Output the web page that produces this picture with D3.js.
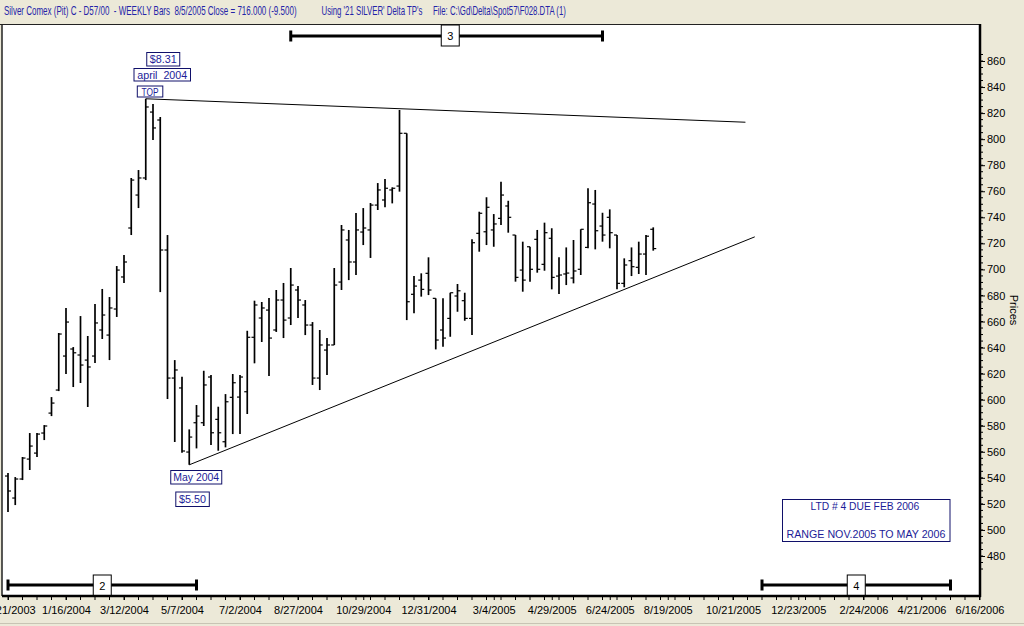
<!DOCTYPE html>
<html><head><meta charset="utf-8">
<script src="https://cdn.jsdelivr.net/npm/d3@7"></script>
<style>
html,body{margin:0;padding:0;background:#ECE9D8;overflow:hidden;}
svg{display:block;font-family:"Liberation Sans",Arial,sans-serif;}
text{white-space:pre;}
</style></head><body>
<svg id="c" width="1024" height="626"></svg>
<script>
// ---------------- DATA ----------------
const firstWeek = "2003-11-21";   // weekly bars (Fridays)
const lastWeek  = "2005-08-05";
const opens = [541.4,524.5,539.1,554.4,559.0,574.4,589.7,607.4,633.5,638.9,
634.3,630.4,633.5,653.5,649.6,669.6,694.2,731.8,757.1,770.2,
820.8,814.7,714.9,616.6,609.0,559.8,582.3,582.3,617.4,584.9,
567.7,601.8,602.0,606.1,647.9,662.7,668.8,653.5,676.5,662.7,
684.2,672.7,657.3,616.6,638.1,642.0,690.3,722.6,705.7,728.7,
730.3,749.4,753.3,761.0,764.0,804.5,680.9,691.8,697.0,677.8,
653.5,662.4,679.6,676.0,662.4,727.7,728.9,730.3,739.2,748.7,
726.4,699.5,717.4,723.1,703.9,723.9,694.9,696.5,693.4,700.1,
716.9,750.2,733.3,740.0,726.4,689.3,706.7,701.6,711.8,730.8];
const highs = [543.7,540.6,556.0,574.4,574.4,580.5,602.0,651.2,670.4,640.4,
664.2,648.9,673.4,685.0,678.8,702.6,711.1,770.2,776.3,831.0,
827.0,817.0,726.4,630.4,617.6,577.2,595.9,622.2,618.9,594.6,
604.3,619.7,618.9,652.9,676.0,675.0,678.0,684.2,689.6,701.1,
687.3,676.5,659.6,653.5,647.3,701.1,734.1,730.3,743.3,747.1,
751.0,766.3,769.4,763.0,822.4,804.5,694.9,697.0,709.3,677.8,
677.8,682.1,688.8,682.1,723.1,744.3,755.4,742.5,767.3,752.7,
726.4,721.3,717.4,730.3,735.9,731.6,709.3,716.9,722.6,730.8,
762.3,761.0,743.5,746.1,726.4,708.5,716.9,721.3,726.4,732.3];
const lows = [513.7,519.1,538.3,546.0,556.0,569.0,587.4,606.6,619.7,609.7,
612.8,594.4,628.1,646.6,630.4,663.5,689.6,726.4,747.1,768.6,
799.3,682.6,600.5,567.5,559.3,550.0,562.6,579.8,565.2,560.8,
563.4,573.6,573.6,589.0,627.9,644.3,618.2,652.0,647.3,657.3,
662.7,649.6,611.3,607.4,618.9,642.0,684.2,691.8,695.7,718.7,
708.8,745.6,747.7,750.7,759.7,661.1,666.3,679.1,680.3,638.6,
640.6,648.3,667.5,660.6,649.6,713.6,718.7,717.4,734.1,728.2,
690.6,682.9,690.6,697.5,699.0,684.7,681.1,688.0,689.3,695.7,
716.2,715.4,721.3,716.2,684.7,686.3,694.9,696.5,695.7,714.4];
const closes = [529.9,539.1,555.2,564.4,573.6,579.8,597.4,650.4,659.6,636.0,
626.6,625.1,658.9,665.0,670.4,699.5,705.7,768.6,770.2,824.7,
808.6,714.9,616.6,622.8,560.6,571.3,587.4,611.3,574.6,574.6,
598.4,613.0,617.4,647.9,672.7,670.4,647.3,676.5,661.1,688.0,
676.5,657.3,616.6,642.0,642.0,688.0,730.3,705.7,730.3,731.8,
749.4,761.0,762.3,762.3,804.5,675.2,687.2,684.7,684.2,645.8,
647.3,682.1,683.6,662.4,720.5,743.1,747.7,734.9,757.1,740.0,
693.9,691.8,700.1,700.1,728.2,693.9,695.7,697.2,698.8,730.8,
751.2,729.7,726.4,728.2,689.3,703.4,702.1,711.8,725.5,716.0];

const xTickDates = ["2003-11-21","2004-01-16","2004-03-12","2004-05-07","2004-07-02","2004-08-27",
  "2004-10-29","2004-12-31","2005-03-04","2005-04-29","2005-06-24","2005-08-19","2005-10-21",
  "2005-12-23","2006-02-24","2006-04-21","2006-06-16"];
const yTickValues = [480,500,520,540,560,580,600,620,640,660,680,700,720,740,760,780,800,820,840,860];

const trendTopDates = ["2004-04-02","2005-11-02"];
const trendTopPrices = [831, 813];
const trendLowDates = ["2004-05-14","2005-11-11"];
const trendLowPrices = [550, 725];

const cycleLabels = ["2","3","4"];
const cycleStarts = ["2003-11-21","2004-08-20","2005-11-18"];
const cycleEnds   = ["2004-05-21","2005-06-17","2006-05-19"];
const cycleRow    = ["bottom","top","bottom"];

const headerTexts = ["Silver Comex (Pit) C - D57/00  - WEEKLY Bars  8/5/2005 Close = 716.000 (-9.500)",
  "Using '21 SILVER' Delta TP's", "File: C:\\Gd\\Delta\\Spot57\\F028.DTA (1)"];

// ---------------- CHART ----------------
const parse = d3.utcParse("%Y-%m-%d");
const fmt = d3.utcFormat("%-m/%-d/%Y");
const svg = d3.select("#c");
const W = 1024, H = 626;
const plot = {l:2, t:24, r:980, b:596};

const x = d3.scaleUtc().domain([parse("2003-11-21"), parse("2006-06-16")]).range([8, 979.5]);
const y = d3.scaleLinear().domain([480, 860]).range([556, 61]);

// text squeezed horizontally to a target width (real glyph box, no overlap)
function fitText(parent, txt, x0, yb, width, size, fill, anchor){
  const t = parent.append("text").attr("font-size",size).attr("fill",fill).text(txt);
  const nat = t.node().getComputedTextLength();
  const s = Math.min(1, width / nat);
  let left = x0;
  if (anchor === "middle") left = x0 - nat*s/2;
  t.attr("transform",`translate(${left},${yb}) scale(${s},1)`);
  return t;
}

svg.append("rect").attr("width",W).attr("height",H).attr("fill","#ECE9D8");
svg.append("rect").attr("x",plot.l).attr("y",plot.t).attr("width",plot.r-plot.l).attr("height",plot.b-plot.t).attr("fill","#fff");
svg.append("line").attr("x1",0).attr("x2",plot.r).attr("y1",plot.t+0.5).attr("y2",plot.t+0.5).attr("stroke","#222").attr("stroke-width",1);
svg.append("line").attr("x1",plot.l).attr("x2",plot.l).attr("y1",plot.t).attr("y2",plot.b).attr("stroke","#222").attr("stroke-width",1.5);
svg.append("line").attr("x1",0).attr("x2",W).attr("y1",623.5).attr("y2",623.5).attr("stroke","#c8c4b4").attr("stroke-width",1);

// header
const hdrX = [4, 321.5, 433], hdrW = [293, 101, 133];
headerTexts.forEach((t,i)=> fitText(svg, t, hdrX[i], 14.5, hdrW[i], 12, "#2424a8", "start"));

// bars
const weeks = d3.utcFriday.range(parse(firstWeek), d3.utcDay.offset(parse(lastWeek),1));
const bars = weeks.map((d,i)=>({d, o:opens[i], h:highs[i], l:lows[i], c:closes[i]}));
const gb = svg.append("g").attr("stroke","#000");
gb.selectAll("line.hl").data(bars).join("line").attr("class","hl")
  .attr("x1",d=>x(d.d)).attr("x2",d=>x(d.d)).attr("y1",d=>y(d.h)).attr("y2",d=>y(d.l)).attr("stroke-width",1.7);
gb.selectAll("line.op").data(bars).join("line").attr("class","op")
  .attr("x1",d=>x(d.d)-3).attr("x2",d=>x(d.d)).attr("y1",d=>y(d.o)).attr("y2",d=>y(d.o)).attr("stroke-width",1.2);
gb.selectAll("line.cl").data(bars).join("line").attr("class","cl")
  .attr("x1",d=>x(d.d)).attr("x2",d=>x(d.d)+3).attr("y1",d=>y(d.c)).attr("y2",d=>y(d.c)).attr("stroke-width",1.2);

// trend lines
[[trendTopDates,trendTopPrices],[trendLowDates,trendLowPrices]].forEach(([ds,ps])=>{
  svg.append("line").attr("x1",x(parse(ds[0]))).attr("y1",y(ps[0]))
    .attr("x2",x(parse(ds[1]))).attr("y2",y(ps[1])).attr("stroke","#000").attr("stroke-width",1);
});

// cycle bars
cycleLabels.forEach((lab,i)=>{
  const x1 = x(parse(cycleStarts[i])), x2 = x(parse(cycleEnds[i]));
  const top = cycleRow[i]==="top";
  const cy = top ? 36 : 585;
  const g = svg.append("g");
  g.append("line").attr("x1",x1).attr("x2",x2).attr("y1",cy).attr("y2",cy).attr("stroke","#000").attr("stroke-width",3.2);
  [x1,x2].forEach(xx=>g.append("line").attr("x1",xx).attr("x2",xx).attr("y1",cy-5.5).attr("y2",cy+5.5).attr("stroke","#000").attr("stroke-width",3));
  const n1 = d3.utcWeek.count(parse(cycleStarts[i]), parse(cycleEnds[i]));
  const xm = x(d3.utcWeek.offset(parse(cycleStarts[i]), Math.round(n1/2)));
  const by = top ? 25 : 575;
  g.append("rect").attr("x",xm-9).attr("y",by).attr("width",18).attr("height",21).attr("fill","#fff").attr("stroke","#000").attr("stroke-width",1);
  g.append("text").attr("x",xm).attr("y",by+14.5).attr("text-anchor","middle").attr("font-size",11).attr("fill","#000").text(lab);
});

// annotation boxes
function box(cx, y0, w, h, txt, tl){
  svg.append("rect").attr("x",cx-w/2).attr("y",y0).attr("width",w).attr("height",h)
    .attr("fill","#fff").attr("stroke","#10106a").attr("stroke-width",1);
  fitText(svg, txt, cx, y0+h/2+4, tl, 11, "#1c1c98", "middle");
}
const xTop = x(parse(trendTopDates[0]));
box(xTop+17.5, 52.5, 33, 13.5, "$8.31", 27);
box(xTop+16.5, 68.5, 56.5, 12.5, "april  2004", 50);
box(xTop+4.3, 86, 25.5, 11, "TOP", 17);
const xLow = x(parse(trendLowDates[0]));
box(xLow+7, 470.5, 51, 13.5, "May 2004", 46);
box(xLow+3.3, 492, 33.5, 14.5, "$5.50", 27);

svg.append("rect").attr("x",782.5).attr("y",499.5).attr("width",167.5).attr("height",42)
  .attr("fill","#fff").attr("stroke","#10106a").attr("stroke-width",1);
fitText(svg, "LTD # 4 DUE FEB 2006", 865, 510, 109, 11, "#1c1c98", "middle");
fitText(svg, "RANGE NOV.2005 TO MAY 2006", 866, 537.5, 159, 11, "#1c1c98", "middle");

// y axis (right)
const gy = svg.append("g").attr("transform",`translate(${plot.r},0)`);
gy.selectAll("line.minor").data(d3.range(470, 866, 5)).join("line").attr("class","minor")
  .attr("x1",0).attr("x2",3).attr("y1",d=>y(d)).attr("y2",d=>y(d)).attr("stroke","#000").attr("stroke-width",1);
const yAxis = gy.append("g").call(d3.axisRight(y).tickValues(yTickValues).tickSize(5).tickPadding(2));
yAxis.select(".domain").remove();
yAxis.selectAll("text").attr("font-size",11).attr("font-family","Liberation Sans, Arial, sans-serif").attr("fill","#000");
gy.append("line").attr("x1",0).attr("x2",0).attr("y1",plot.t).attr("y2",plot.b+1).attr("stroke","#000").attr("stroke-width",2.5);
svg.append("text").attr("transform","translate(1010,310) rotate(90)").attr("text-anchor","middle")
  .attr("font-size",11).attr("fill","#000").text("Prices");

// x axis (bottom)
const gx = svg.append("g").attr("transform",`translate(0,${plot.b})`);
const allTicks = d3.utcFriday.every(1).range(parse("2003-11-21"), parse("2006-06-17")).filter((d,i)=>i%2===0);
gx.selectAll("line.minor").data(allTicks).join("line").attr("class","minor")
  .attr("x1",d=>x(d)).attr("x2",d=>x(d)).attr("y1",0).attr("y2",4).attr("stroke","#000").attr("stroke-width",1);
const xAxis = gx.append("g").call(d3.axisBottom(x).tickValues(xTickDates.map(parse)).tickFormat(fmt).tickSize(4).tickPadding(6));
xAxis.select(".domain").remove();
xAxis.selectAll("text").attr("font-size",11).attr("font-family","Liberation Sans, Arial, sans-serif").attr("fill","#000");
gx.append("line").attr("x1",plot.l).attr("x2",plot.r+1).attr("y1",0).attr("y2",0).attr("stroke","#000").attr("stroke-width",2.5);
</script>
</body></html>
